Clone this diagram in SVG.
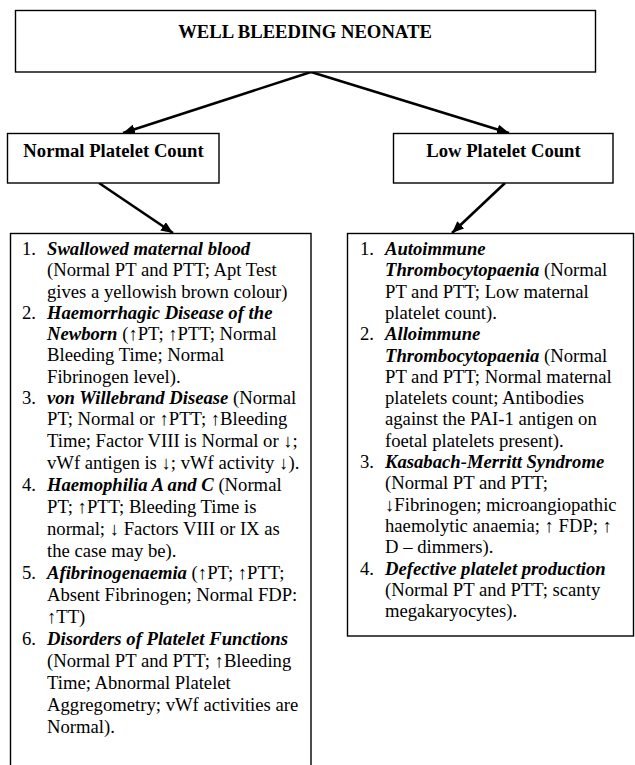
<svg xmlns="http://www.w3.org/2000/svg" width="635" height="765" viewBox="0 0 635 765">
<style>
.box{fill:#fff;stroke:#000;stroke-width:1.4}
.t{font-family:"Liberation Serif","Times New Roman",serif;font-size:18.67px;fill:#000}
.h{font-weight:bold}
.bi{font-weight:bold;font-style:italic}
.con{stroke:#000;stroke-width:2.6;fill:none;marker-end:url(#ah)}
</style>
<defs>
<marker id="ah" markerUnits="userSpaceOnUse" markerWidth="13" markerHeight="10" refX="12" refY="5" orient="auto">
<path d="M0,0 L12,5 L0,10 z" fill="#000"/>
</marker>
</defs>
<rect width="635" height="765" fill="#fff"/>
<g id="connectors">
<line class="con" x1="311" y1="72" x2="123" y2="133"/>
<line class="con" x1="311" y1="72" x2="509" y2="133"/>
<line class="con" x1="99" y1="183" x2="173" y2="233"/>
<line class="con" x1="505" y1="183" x2="452" y2="233"/>
</g>
<g id="root">
<rect class="box" x="15.5" y="10.5" width="580" height="61.5"/>
<text class="t h" x="305" y="38" text-anchor="middle">WELL BLEEDING NEONATE</text>
</g>
<g id="normal">
<rect class="box" x="7.5" y="133.5" width="211.5" height="49.5"/>
<text class="t h" x="113.5" y="157" text-anchor="middle">Normal Platelet Count</text>
</g>
<g id="low">
<rect class="box" x="393.5" y="133.5" width="219.5" height="49.5"/>
<text class="t h" x="503.5" y="157" text-anchor="middle">Low Platelet Count</text>
</g>
<g id="normal-list">
<rect class="box" x="10.5" y="233.5" width="300.5" height="540"/>
<text class="t">
<tspan x="22" y="255">1.</tspan><tspan x="47" y="255" class="bi">Swallowed maternal blood</tspan>
<tspan x="47" y="276">(Normal PT and PTT; Apt Test</tspan>
<tspan x="47" y="297.5">gives a yellowish brown colour)</tspan>
<tspan x="22" y="319">2.</tspan><tspan x="47" y="319" class="bi">Haemorrhagic Disease of the</tspan>
<tspan x="47" y="340"><tspan class="bi">Newborn</tspan> (↑PT; ↑PTT; Normal</tspan>
<tspan x="47" y="361">Bleeding Time; Normal</tspan>
<tspan x="47" y="383">Fibrinogen level).</tspan>
<tspan x="22" y="404">3.</tspan><tspan x="47" y="404"><tspan class="bi">von Willebrand Disease</tspan> (Normal</tspan>
<tspan x="47" y="425">PT; Normal or ↑PTT; ↑Bleeding</tspan>
<tspan x="47" y="447">Time; Factor VIII is Normal or ↓;</tspan>
<tspan x="47" y="469">vWf antigen is ↓; vWf activity ↓).</tspan>
<tspan x="22" y="491">4.</tspan><tspan x="47" y="491"><tspan class="bi">Haemophilia A and C</tspan> (Normal</tspan>
<tspan x="47" y="513">PT; ↑PTT; Bleeding Time is</tspan>
<tspan x="47" y="535">normal; ↓ Factors VIII or IX as</tspan>
<tspan x="47" y="557">the case may be).</tspan>
<tspan x="22" y="579">5.</tspan><tspan x="47" y="579"><tspan class="bi">Afibrinogenaemia</tspan> (↑PT; ↑PTT;</tspan>
<tspan x="47" y="601">Absent Fibrinogen; Normal FDP:</tspan>
<tspan x="47" y="623">↑TT)</tspan>
<tspan x="22" y="645">6.</tspan><tspan x="47" y="645" class="bi">Disorders of Platelet Functions</tspan>
<tspan x="47" y="667">(Normal PT and PTT; ↑Bleeding</tspan>
<tspan x="47" y="689">Time; Abnormal Platelet</tspan>
<tspan x="47" y="711">Aggregometry; vWf activities are</tspan>
<tspan x="47" y="733">Normal).</tspan>
</text>
</g>
<g id="low-list">
<rect class="box" x="347.5" y="233.5" width="286" height="402.5"/>
<text class="t">
<tspan x="360" y="255">1.</tspan><tspan x="385" y="255" class="bi">Autoimmune</tspan>
<tspan x="385" y="276.3"><tspan class="bi">Thrombocytopaenia</tspan> (Normal</tspan>
<tspan x="385" y="297.6">PT and PTT; Low maternal</tspan>
<tspan x="385" y="318.9">platelet count).</tspan>
<tspan x="360" y="340.2">2.</tspan><tspan x="385" y="340.2" class="bi">Alloimmune</tspan>
<tspan x="385" y="361.5"><tspan class="bi">Thrombocytopaenia</tspan> (Normal</tspan>
<tspan x="385" y="382.8">PT and PTT; Normal maternal</tspan>
<tspan x="385" y="404.1">platelets count; Antibodies</tspan>
<tspan x="385" y="425.4">against the PAI-1 antigen on</tspan>
<tspan x="385" y="446.7">foetal platelets present).</tspan>
<tspan x="360" y="468">3.</tspan><tspan x="385" y="468" class="bi">Kasabach-Merritt Syndrome</tspan>
<tspan x="385" y="489.3">(Normal PT and PTT;</tspan>
<tspan x="385" y="510.6">↓Fibrinogen; microangiopathic</tspan>
<tspan x="385" y="531.9">haemolytic anaemia; ↑ FDP; ↑</tspan>
<tspan x="385" y="553.2">D – dimmers).</tspan>
<tspan x="360" y="574.5">4.</tspan><tspan x="385" y="574.5" class="bi">Defective platelet production</tspan>
<tspan x="385" y="595.8">(Normal PT and PTT; scanty</tspan>
<tspan x="385" y="617">megakaryocytes).</tspan>
</text>
</g>
</svg>
